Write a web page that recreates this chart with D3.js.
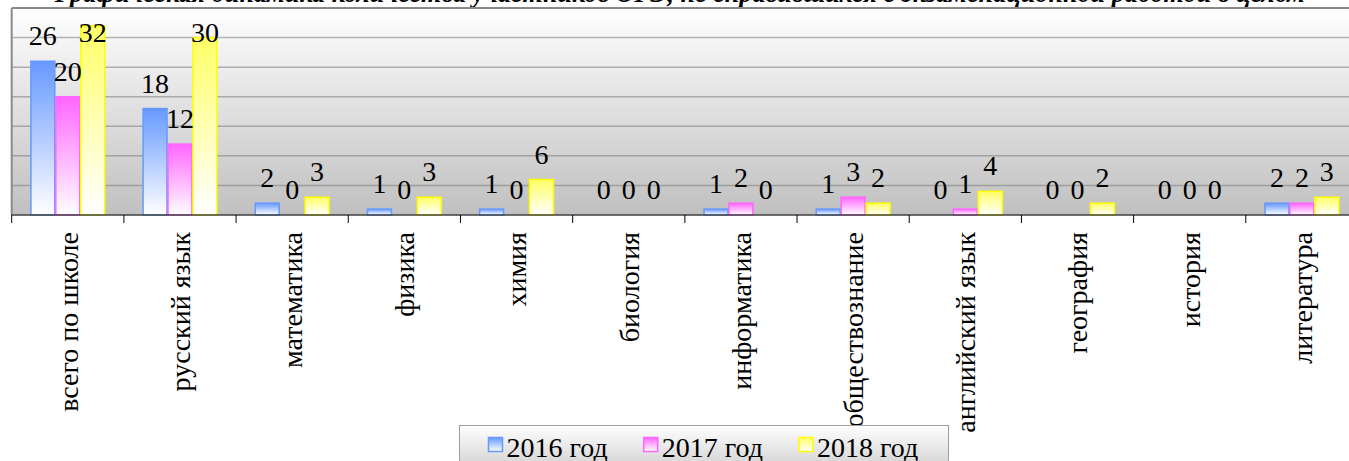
<meta charset="utf-8">
<style>
    body{
        margin: 0;
        background: #fff;
        overflow: hidden;
    }
</style>
<script src="https://d3js.org/d3.v7.min.js"></script>
<body>
<div id="chart"></div>
<script>
    // data
    var categories = ["всего по школе", "русский язык", "математика", "физика", "химия", "биология",
                      "информатика", "обществознание", "английский язык", "география", "история", "литература"];
    var years = ["2016 год", "2017 год", "2018 год"];
    var v2016 = [26, 18, 2, 1, 1, 0, 1, 1, 0, 0, 0, 2];
    var v2017 = [20, 12, 0, 0, 0, 0, 2, 3, 1, 0, 0, 2];
    var v2018 = [32, 30, 3, 3, 6, 0, 0, 2, 4, 2, 0, 3];
    var yTicks = [0, 5, 10, 15, 20, 25, 30, 35];
    var colors = ["#6699ff", "#ff66ff", "#ffff66"];
    var strokes = ["#6699ff", "#ff66ff", "#ffff00"];
    var title = "Графическая динамика количества участников ОГЭ, не справившихся с экзаменационной работой в целом";

    var series = [v2016, v2017, v2018];
    var serif = "Liberation Serif";

    var W = 1349, H = 461;
    var plot = {left: 11.7, right: 1358, top: 8, bottom: 215};

    var svg = d3.select("#chart").append("svg")
        .attr("width", W)
        .attr("height", H)
        .style("font-family", serif);

    var defs = svg.append("defs");

    var bg = defs.append("linearGradient").attr("id", "plotbg")
        .attr("x1", 0).attr("y1", 0).attr("x2", 0).attr("y2", 1);
    bg.append("stop").attr("offset", "0%").attr("stop-color", "#ffffff");
    bg.append("stop").attr("offset", "100%").attr("stop-color", "#c0c0c0");

    var lg = defs.append("linearGradient").attr("id", "legbg")
        .attr("x1", 0).attr("y1", 0).attr("x2", 0).attr("y2", 1);
    lg.append("stop").attr("offset", "0%").attr("stop-color", "#ffffff");
    lg.append("stop").attr("offset", "100%").attr("stop-color", "#cfcfcf");

    colors.forEach(function(c, i){
        var g = defs.append("linearGradient").attr("id", "bar" + i)
            .attr("x1", 0).attr("y1", 0).attr("x2", 0).attr("y2", 1);
        g.append("stop").attr("offset", "0%").attr("stop-color", c);
        g.append("stop").attr("offset", "100%").attr("stop-color", "#ffffff");
    });

    var x0 = d3.scaleBand()
        .domain(categories)
        .range([plot.left, plot.right]);

    // excel gap width 150% -> group is 3/4.5 of the band
    var gap = x0.bandwidth() / 4.5 * 1.5;
    var x1 = d3.scaleBand()
        .domain(d3.range(series.length))
        .range([gap / 2, x0.bandwidth() - gap / 2]);

    var y = d3.scaleLinear()
        .domain([0, 35])
        .range([plot.bottom, plot.top]);

    // title, mostly cut off by the top edge (as in the picture)
    svg.append("text")
        .attr("x", 55)
        .attr("y", 1.5)
        .attr("textLength", 1250)
        .attr("lengthAdjust", "spacingAndGlyphs")
        .style("font-family", serif)
        .style("font-size", "27px")
        .style("font-weight", "bold")
        .style("font-style", "italic")
        .text(title);

    // plot area
    svg.append("rect")
        .attr("x", plot.left).attr("y", plot.top)
        .attr("width", plot.right - plot.left)
        .attr("height", plot.bottom - plot.top)
        .attr("fill", "url(#plotbg)");

    svg.selectAll(".grid")
        .data(yTicks.filter(function(t){ return t > 0 && t < 35; }))
        .enter().append("line")
        .attr("class", "grid")
        .attr("x1", plot.left).attr("x2", plot.right)
        .attr("y1", function(d){ return y(d); })
        .attr("y2", function(d){ return y(d); })
        .attr("stroke", "#7a7a7a")
        .attr("stroke-opacity", 0.55)
        .attr("stroke-width", 1.5);

    svg.append("line")
        .attr("x1", plot.left).attr("x2", plot.right)
        .attr("y1", plot.top).attr("y2", plot.top)
        .attr("stroke", "#8a8a8a").attr("stroke-width", 2);
    svg.append("line")
        .attr("x1", plot.left).attr("x2", plot.left)
        .attr("y1", plot.top).attr("y2", plot.bottom)
        .attr("stroke", "#8a8a8a").attr("stroke-width", 2);

    // bars
    var groups = svg.selectAll(".cat")
        .data(categories)
        .enter().append("g")
        .attr("class", "cat")
        .attr("transform", function(d){ return "translate(" + x0(d) + ",0)"; });

    groups.selectAll("rect")
        .data(function(d, ci){ return series.map(function(s, si){ return {s: si, v: s[ci]}; }); })
        .enter().append("rect")
        .filter(function(d){ return d.v > 0; })
        .attr("x", function(d){ return x1(d.s) + 0.5; })
        .attr("width", x1.bandwidth() - 1)
        .attr("y", function(d){ return y(d.v); })
        .attr("height", function(d){ return y(0) - y(d.v); })
        .attr("fill", function(d){ return "url(#bar" + d.s + ")"; })
        .attr("stroke", function(d){ return strokes[d.s]; })
        .attr("stroke-width", 1.5);

    groups.selectAll("text.val")
        .data(function(d, ci){ return series.map(function(s, si){ return {s: si, v: s[ci]}; }); })
        .enter().append("text")
        .attr("class", "val")
        .attr("x", function(d){ return x1(d.s) + x1.bandwidth() / 2; })
        .attr("y", function(d){ return Math.max(y(d.v) - 16, plot.top + 34); })
        .attr("text-anchor", "middle")
        .style("font-family", serif)
        .style("font-size", "28px")
        .text(function(d){ return d.v; });

    // category axis
    var ax = svg.append("g")
        .attr("transform", "translate(0," + plot.bottom + ")");
    ax.append("line")
        .attr("x1", plot.left).attr("x2", plot.right)
        .attr("stroke", "#404040").attr("stroke-width", 1.5);
    ax.selectAll(".tk")
        .data(categories)
        .enter().append("line")
        .attr("class", "tk")
        .attr("x1", function(d){ return x0(d); })
        .attr("x2", function(d){ return x0(d); })
        .attr("y1", 0).attr("y2", 8)
        .attr("stroke", "#000").attr("stroke-width", 1);

    svg.selectAll(".catlab")
        .data(categories)
        .enter().append("text")
        .attr("class", "catlab")
        .attr("transform", function(d){
            return "translate(" + (x0(d) + x0.bandwidth() / 2) + ",232) rotate(-90)";
        })
        .attr("dy", "0.35em")
        .attr("text-anchor", "end")
        .style("font-family", serif)
        .style("font-size", "28px")
        .text(function(d){ return d; });

    // legend
    var leg = svg.append("g").attr("transform", "translate(459.5,425.5)");
    leg.append("rect")
        .attr("width", 489).attr("height", 45)
        .attr("fill", "url(#legbg)")
        .attr("stroke", "#a0a0a0").attr("stroke-width", 1);

    var lx = 29;
    years.forEach(function(yr, i){
        var item = leg.append("g").attr("transform", "translate(" + lx + ",0)");
        item.append("rect")
            .attr("x", 0).attr("y", 12)
            .attr("width", 14).attr("height", 14)
            .attr("fill", "url(#bar" + i + ")")
            .attr("stroke", strokes[i]).attr("stroke-width", 1.5);
        var t = item.append("text")
            .attr("x", 18).attr("y", 31)
            .style("font-family", serif)
            .style("font-size", "28px")
            .text(yr);
        lx += 18 + t.node().getComputedTextLength() + 36;
    });
</script>
</body>
